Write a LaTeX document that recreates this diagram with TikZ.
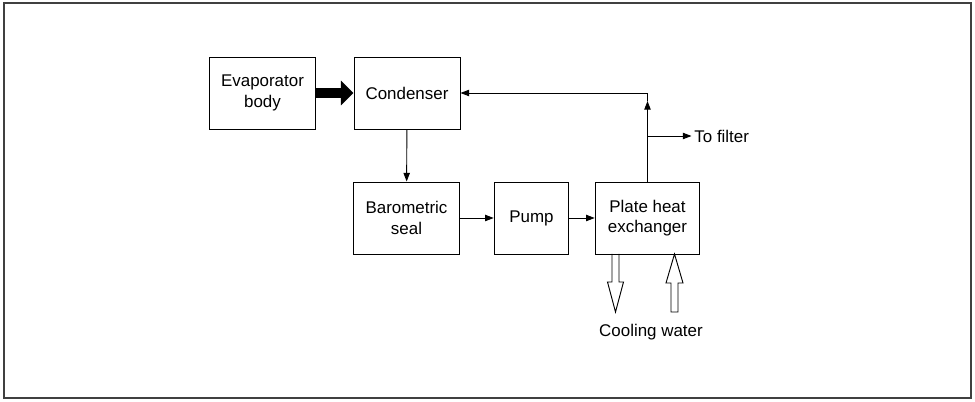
\documentclass[tikz,border=0pt]{standalone}
\usepackage{fontspec}
\setmainfont{Liberation Sans}
\usetikzlibrary{arrows.meta, positioning}

\begin{document}
\begin{tikzpicture}[x=0.75pt, y=-0.75pt]
\tikzset{
node distance=4pt,
box/.style={draw, line width=0.7pt, minimum height=54pt, align=center, font=\fontsize{12.7}{15.2}\selectfont},
flow/.style={line width=0.7pt, -{Triangle[length=6.5pt, width=4.8pt]}},
vapour/.style={line width=7.5pt, -{Triangle[length=9.5pt, width=18pt]}},
water/.style={draw, line width=0.7pt, line join=miter},
every label/.style={font=\fontsize{12.7}{15.2}\selectfont}
}

	% frame
	\useasboundingbox (0,0) rectangle (975,402);
	\draw[line width=1.1pt, black!75] (4,3) rectangle (971,398);

	% blocks
	\node[box, minimum width=80pt] at (262.5,93) (evap) {Evaporator\\body};
	\node[box, minimum width=79.5pt] at (407,93) (cond) {Condenser};
	\node[box, minimum width=80pt] at (406.5,218) (seal) {Barometric\\seal};
	\node[box, minimum width=56pt] at (531.5,218) (pump) {Pump};
	\node[box, minimum width=78.5pt] at (647.5,218) (phe) {Plate heat\\exchanger};

	\coordinate (up) at (647.5,101);
	\coordinate (split) at (647.5,136);
	\node[right=33pt of split, anchor=west, inner sep=2pt, font=\fontsize{12.7}{15.2}\selectfont] (filter) {To filter};

	\coordinate (cwout) at (615.5,254);
	\coordinate (cwin) at (674.5,254);
	\node[font=\fontsize{12.7}{15.2}\selectfont] at (651,332) (cw) {Cooling water};

	% connections
	\draw[vapour] (evap) -- (cond);
	\draw[flow] (cond) -- (seal);
	\draw[flow] (seal) -- (pump);
	\draw[flow] (pump) -- (phe);
	\draw[flow] (phe.north) -- (up);
	\draw[flow] (up) |- (cond.east);
	\draw[flow] (split) -- (filter.west);

	% cooling water in and out
	\draw[water] (cwout) ++(-3.5,0) -- ++(0,28) -- ++(-4.5,0) -- ++(8,30) -- ++(8,-30) -- ++(-4.5,0) -- ++(0,-28);
	\draw[water] (cwin) -- ++(8.5,29) -- ++(-5,0) -- ++(0,29) -- ++(-7,0) -- ++(0,-29) -- ++(-5,0) -- cycle;

\end{tikzpicture}
\end{document}
